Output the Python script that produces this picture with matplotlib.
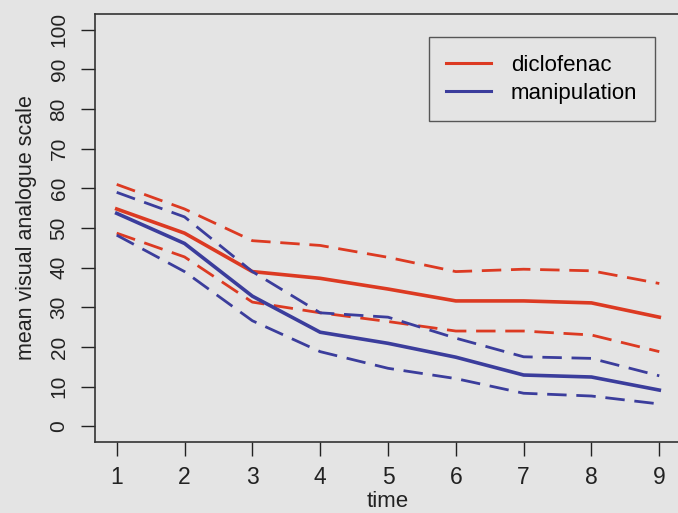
import matplotlib
matplotlib.use("Agg")
import matplotlib.pyplot as plt

# mean VAS with 95% band
time = [1, 2, 3, 4, 5, 6, 7, 8, 9]
diclo_mean = [54.8, 48.7, 39.0, 37.3, 34.6, 31.6, 31.6, 31.1, 27.5]
diclo_upper = [61.0, 54.8, 46.8, 45.6, 42.6, 39.0, 39.6, 39.2, 36.0]
diclo_lower = [48.7, 42.7, 31.3, 28.6, 26.4, 24.0, 24.0, 23.0, 18.8]
manip_mean = [53.7, 46.1, 32.8, 23.7, 20.9, 17.4, 12.9, 12.4, 9.1]
manip_upper = [59.0, 52.8, 39.0, 28.6, 27.5, 22.2, 17.5, 17.1, 12.7]
manip_lower = [48.2, 39.0, 26.6, 18.8, 14.6, 12.0, 8.3, 7.6, 5.6]

red = "#dc3a22"
blue = "#3b3d9c"
bg = "#e4e4e4"

plt.rcParams["font.family"] = ["Liberation Sans", "DejaVu Sans"]

fig = plt.figure(figsize=(6.78, 5.13), dpi=100, facecolor=bg)
ax = fig.add_axes([95 / 678, 71 / 513, 586 / 678, 428 / 513])
ax.set_facecolor(bg)

dash = (0, (7, 3.5))
ax.plot(time, diclo_mean, color=red, lw=2.6, label="diclofenac")
ax.plot(time, diclo_upper, color=red, lw=2.0, linestyle=dash)
ax.plot(time, diclo_lower, color=red, lw=2.0, linestyle=dash)
ax.plot(time, manip_mean, color=blue, lw=2.6, label="manipulation")
ax.plot(time, manip_upper, color=blue, lw=2.0, linestyle=dash)
ax.plot(time, manip_lower, color=blue, lw=2.0, linestyle=dash)

ax.set_xlim(0.68, 9.32)
ax.set_ylim(-4, 104)
ax.set_xticks(time)
ax.set_yticks(range(0, 101, 10))
ax.set_yticklabels([str(v) for v in range(0, 101, 10)], rotation=90, va="center")
ax.tick_params(direction="out", length=10, width=1, colors="#222222")
ax.tick_params(axis="x", labelsize=16.5, pad=7)
ax.tick_params(axis="y", labelsize=15, pad=9)
for s in ax.spines.values():
    s.set_color("#333333")
    s.set_linewidth(1.2)

ax.set_xlabel("time", fontsize=16, color="#222222", labelpad=1.5)
ax.set_ylabel("mean visual analogue scale", fontsize=15.5, color="#222222", labelpad=9)

leg = ax.legend(loc="upper right", bbox_to_anchor=(0.956, 0.946), borderaxespad=0,
                fontsize=16, frameon=True, fancybox=False, handlelength=2.0,
                handletextpad=0.9, borderpad=0.8, labelspacing=0.3)
leg.get_frame().set_edgecolor("#333333")
leg.get_frame().set_facecolor(bg)
leg.get_frame().set_linewidth(1.0)
for h in leg.get_lines():
    h.set_linewidth(2.2)

fig.savefig("out.png", dpi=100, facecolor=bg)
